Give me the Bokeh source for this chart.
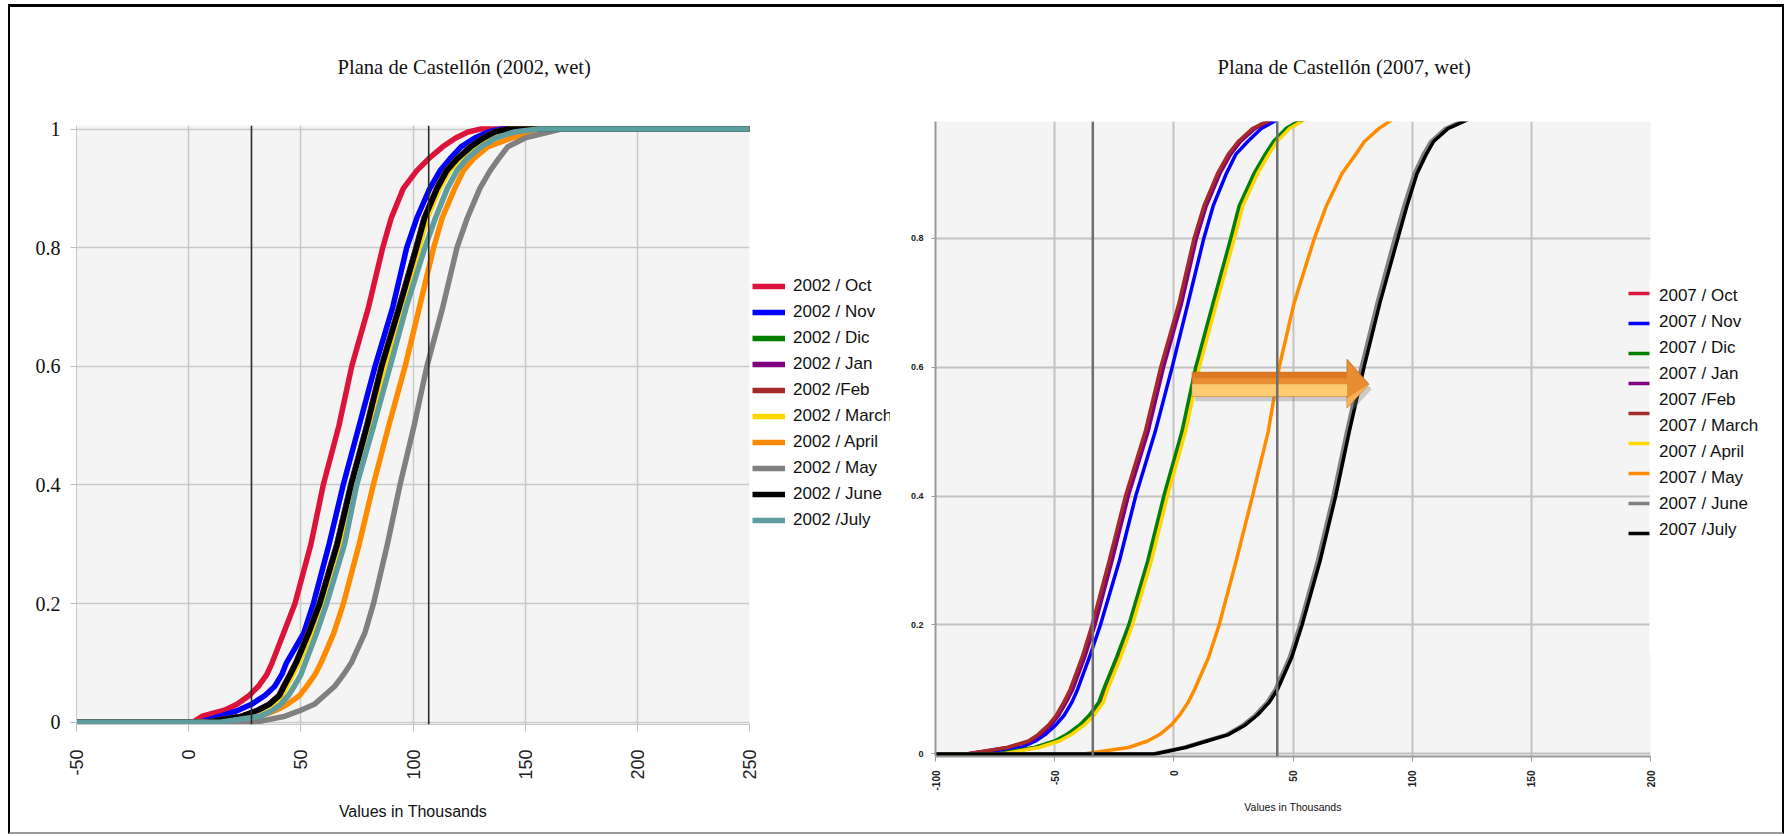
import math
from bokeh.plotting import figure
from bokeh.models import Legend, LegendItem, Span, FixedTicker, Range1d, Div
from bokeh.embed import file_html
from bokeh.resources import INLINE

# ------------------------------------------------------------------ texts
L_TITLE = "Plana de Castellón (2002, wet)"
R_TITLE = "Plana de Castellón (2007, wet)"
X_TITLE = "Values in Thousands"

# ------------------------------------------------------------------ left chart (2002) data
LX_TICKS = [-50, 0, 50, 100, 150, 200, 250]
LX_TICK_LABELS = ["-50", "0", "50", "100", "150", "200", "250"]
LY_TICKS = [0, 0.2, 0.4, 0.6, 0.8, 1]
LY_TICK_LABELS = ["0", "0.2", "0.4", "0.6", "0.8", "1"]
L_MARKERS = [28, 107]            # dark vertical reference lines
L_X_FIRST = -50                  # curves are flat at 0 from here
L_X_LAST = 250                   # and flat at 1 up to here

L_PROB = [0, 0.01, 0.02, 0.03, 0.045, 0.06, 0.08, 0.1, 0.15, 0.2, 0.3, 0.4, 0.5,
          0.6, 0.7, 0.8, 0.85, 0.9, 0.93, 0.95, 0.97, 0.985, 0.995, 1.0]
L_LABELS = ["2002 / Oct", "2002 / Nov", "2002 / Dic", "2002 / Jan", "2002 /Feb",
            "2002 / March", "2002 / April", "2002 / May", "2002 / June", "2002 /July"]
L_COLORS = ["#DC143C", "#0000FF", "#008000", "#800080", "#A52A2A",
            "#FFD700", "#FF8C00", "#808080", "#000000", "#5F9EA0"]
L_OCT = [2, 6, 16, 21.5, 27, 31, 34.8, 37.2, 42.3, 47.4, 54.5, 60, 67,
         72.7, 80.2, 86.5, 90.3, 95.7, 101.7, 107, 113.2, 119, 124.5, 130]
L_NOV = [5, 14, 22, 28, 34, 38.3, 41.5, 43.6, 51.3, 55.6, 62.6, 68.9, 76,
         83.1, 91, 97.2, 101.7, 107.5, 112.1, 116.5, 121.4, 127.5, 133.5, 139]
L_DIC = [8, 23.7, 30.7, 35.7, 40.2, 42.2, 45, 47.7, 53.2, 58.2, 66, 72.2, 79.3,
         85.8, 93.7, 101.3, 104.9, 110.5, 114.8, 119.5, 125.5, 131.2, 136.2, 141.7]
L_JAN = [8, 23.8, 30.8, 35.8, 40.3, 42.3, 45.1, 47.8, 53.3, 58.3, 66.1, 72.3, 79.4,
         85.9, 93.8, 101.4, 105.0, 110.6, 114.9, 119.6, 125.6, 131.3, 136.3, 141.8]
L_FEB = [8, 24, 31, 36, 40.5, 42.5, 45.3, 48, 53.5, 58.5, 66.3, 72.5, 79.6,
         86.1, 94, 101.6, 105.2, 110.8, 115.1, 119.8, 125.8, 131.5, 136.5, 142]
L_MAR = [9, 25, 32, 37.1, 41.6, 43.6, 46.4, 49.1, 54.6, 59.6, 67.4, 73.6, 80.7,
         87.2, 95.1, 102.7, 106.3, 111.9, 116.2, 120.9, 126.9, 132.6, 137.6, 143]
L_APR = [18, 32, 39, 44, 49.5, 52.5, 56.3, 59, 64.7, 69, 76, 82.3, 89.2,
         96.5, 102.9, 109.2, 113, 118.6, 122.5, 127, 133.3, 144, 154.5, 163]
L_MAY = [30, 43, 50, 56, 60.5, 65, 69, 72.5, 78.5, 82.4, 88.6, 94.2, 100.5,
         106.2, 113.3, 119.6, 124.2, 129.8, 134.4, 138.2, 142.2, 150, 160.5, 166]
L_JUN = [8, 24, 31, 36, 40.5, 42.5, 45.3, 48, 53.5, 58.5, 66.3, 72.5, 79.6,
         86.1, 94, 101.6, 105.2, 110.8, 115.1, 119.8, 125.8, 131.5, 136.5, 142]
L_JUL = [14, 32, 37.5, 41, 44.5, 47, 50, 52, 57, 61.5, 69.5, 74.9, 82.5,
         89.8, 97, 105.3, 110, 115.3, 119.6, 124, 130.3, 137, 145, 156]
L_SERIES = [L_OCT, L_NOV, L_DIC, L_JAN, L_FEB, L_MAR, L_APR, L_MAY, L_JUN, L_JUL]

# ------------------------------------------------------------------ right chart (2007) data
RX_TICKS = [-100, -50, 0, 50, 100, 150, 200]
RX_TICK_LABELS = ["-100", "-50", "0", "50", "100", "150", "200"]
RY_TICKS = [0, 0.2, 0.4, 0.6, 0.8]
RY_TICK_LABELS = ["0", "0.2", "0.4", "0.6", "0.8"]
R_MARKERS = [-34, 43.4]
R_X_FIRST = -100

R_PROB = [0, 0.01, 0.02, 0.03, 0.045, 0.06, 0.08, 0.1, 0.15, 0.2, 0.3, 0.4, 0.5,
          0.6, 0.7, 0.8, 0.85, 0.9, 0.93, 0.95, 0.97, 0.985, 1.0]
R_LABELS = ["2007 / Oct", "2007 / Nov", "2007 / Dic", "2007 / Jan", "2007 /Feb",
            "2007 / March", "2007 / April", "2007 / May", "2007 / June", "2007 /July"]
# the 2007 chart has nine curves (there is no swatch for "2007 /Feb")
R_COLORS = ["#DC143C", "#0000FF", "#008000", "#800080", "#A52A2A",
            "#FFD700", "#FF8C00", "#808080", "#000000"]
R_OCT = [-74, -58, -49.3, -44.3, -38.8, -34.8, -30.8, -28.8, -23.3, -18.2, -10.2, -3.5, 4.1,
         9.9, 17.2, 24.6, 28.1, 34.3, 39, 42.5, 47.7, 54.7, 62.5]
R_NOV = [-86, -64, -58, -54, -49.5, -46, -42.8, -40.4, -35.4, -30.8, -22.8, -16, -7.8,
         -0.7, 6, 12.6, 16.5, 22, 26, 31, 36.7, 44, 50]
R_DIC = [-74, -58.5, -50, -45, -39.5, -35.5, -31.5, -29.5, -24, -18.9, -10.9, -4.2, 3.4,
         9.2, 16.5, 23.9, 27.4, 33.6, 38.3, 41.8, 47, 54, 62]
R_JAN = [-87, -69.5, -60, -56, -51.5, -48.3, -45.2, -42.4, -37.4, -33.1, -25.9, -19.1, -10.8,
         -4.3, 3.3, 9.5, 13.6, 19.3, 23.8, 28, 34, 42, 48.5]
R_MAR = [-87, -70, -61, -57, -52.5, -49.3, -46.2, -43.5, -38.5, -34.3, -27.1, -20.3, -12,
         -5.5, 2.2, 8.5, 12.6, 18.3, 22.8, 27, 33, 41, 48]
R_APR = [-72, -56.5, -48, -43, -37.5, -33.5, -29.6, -27.8, -22.3, -17.4, -9.4, -2.7, 4.9,
         10.7, 18, 25.4, 28.9, 35.1, 39.8, 43.3, 48.5, 55.5, 63]
R_MAY = [-38, -19, -11, -6, -1, 2.4, 6, 8.7, 14.6, 19, 26.2, 33, 39.6,
         44.2, 50.5, 59, 64, 70.5, 76.3, 80, 86, 92, 97]
R_JUN = [-9, 4, 13, 22, 29, 34, 39, 42.5, 48.5, 52.8, 60.3, 66.8, 72.5,
         78.6, 85.3, 92.6, 96.5, 100.8, 104.6, 107.8, 113.8, 122.8, 132]
R_JUL = [-8, 5, 14, 23, 30, 35, 40, 43.5, 49.5, 53.8, 61.4, 67.9, 73.6,
         79.8, 86.5, 94, 97.8, 102, 105.9, 109, 115, 124, 133]
R_SERIES = [R_OCT, R_NOV, R_DIC, R_JAN, R_MAR, R_APR, R_MAY, R_JUN, R_JUL]

# block arrow drawn on the 2007 chart (data units)
ARROW_X = [7.7, 72.7, 81.8]               # tail, head base, tip
ARROW_Y = [0.555, 0.592, 0.537, 0.612]    # shaft bottom, shaft top, head bottom, head top

SERIF = "Liberation Serif"
SANS = "Liberation Sans"
PLOT_BG = "#F4F4F4"


def style_common(p, grid_color, grid_width):
    p.background_fill_color = PLOT_BG
    p.border_fill_color = "white"
    p.outline_line_color = None
    p.xgrid.grid_line_color = grid_color
    p.ygrid.grid_line_color = grid_color
    p.xgrid.grid_line_width = grid_width
    p.ygrid.grid_line_width = grid_width
    for ax in (p.xaxis[0], p.yaxis[0]):
        ax.minor_tick_line_color = None
        ax.major_tick_in = 0


def legend_panel(left, top, width, height):
    """small axis-less figure that only carries a legend (placed absolutely);
    its view range lies away from the data so only the legend shows"""
    q = figure(width=width, height=height, output_backend="svg", toolbar_location=None,
               x_range=Range1d(-1000, -999), y_range=Range1d(0, 1),
               min_border_left=0, min_border_right=0, min_border_top=0, min_border_bottom=0)
    q.axis.visible = False
    q.grid.visible = False
    q.outline_line_color = None
    q.background_fill_color = "white"
    q.border_fill_color = "white"
    q.styles = {"position": "absolute", "left": f"{left}px", "top": f"{top}px"}
    return q


# ================================================================== LEFT
p1 = figure(width=880, height=825, output_backend="svg", toolbar_location=None,
            x_range=Range1d(-50, 250), y_range=Range1d(-0.004, 1.006),
            min_border_left=66, min_border_right=141, min_border_top=118, min_border_bottom=108)
p1.styles = {"position": "absolute", "left": "10px", "top": "7px"}
style_common(p1, "#C9C9C9", 1.5)
p1.title.text = L_TITLE
p1.title.align = "left"
p1.title.offset = 261
p1.title.vertical_align = "middle"
p1.title.standoff = 93
p1.title.text_font = SERIF
p1.title.text_font_size = "20.6px"
p1.title.text_font_style = "normal"
p1.title.text_color = "#111111"

p1.xaxis.ticker = FixedTicker(ticks=LX_TICKS)
p1.xaxis.major_label_overrides = dict(zip(LX_TICKS, LX_TICK_LABELS))
p1.xaxis.major_label_orientation = math.pi / 2
p1.xaxis.major_label_text_font = SANS
p1.xaxis.major_label_text_font_size = "18px"
p1.xaxis.major_label_text_color = "#222222"
p1.xaxis.major_label_standoff = 18
p1.xaxis.major_tick_out = 7
p1.xaxis.major_tick_line_color = "#BDBDBD"
p1.xaxis.axis_line_color = "#C9C9C9"
p1.xaxis.axis_label = X_TITLE
p1.xaxis.axis_label_text_font = SANS
p1.xaxis.axis_label_text_font_size = "16px"
p1.xaxis.axis_label_text_font_style = "normal"
p1.xaxis.axis_label_text_color = "#111111"
p1.xaxis.axis_label_standoff = 20

p1.yaxis.ticker = FixedTicker(ticks=LY_TICKS)
p1.yaxis.major_label_overrides = dict(zip(LY_TICKS, LY_TICK_LABELS))
p1.yaxis.major_label_text_font = SERIF
p1.yaxis.major_label_text_font_size = "20px"
p1.yaxis.major_label_text_color = "#111111"
p1.yaxis.major_label_standoff = 10
p1.yaxis.major_tick_out = 6
p1.yaxis.major_tick_line_color = "#BDBDBD"
p1.yaxis.axis_line_color = "#C9C9C9"

for loc in L_MARKERS:
    p1.add_layout(Span(location=loc, dimension="height", line_color="#2A2A2A", line_width=1.6))

for xs, col in zip(L_SERIES, L_COLORS):
    p1.line([L_X_FIRST] + xs + [L_X_LAST], [0] + L_PROB + [1],
            line_color=col, line_width=5.5, line_join="round")

# legend of the 2002 chart (right of its plot area, cut by the 2007 panel)
q1 = legend_panel(750, 270, 140, 270)
q1_items = []
for lab, xs, col in zip(L_LABELS, L_SERIES, L_COLORS):
    rr = q1.line([L_X_FIRST] + xs + [L_X_LAST], [0] + L_PROB + [1], line_color=col, line_width=5.5)
    q1_items.append(LegendItem(label=lab, renderers=[rr]))
q1.add_layout(Legend(items=q1_items, location=(2, 8), orientation="vertical",
                     label_text_font=SANS, label_text_font_size="17px", label_text_color="#111111",
                     label_height=24, glyph_height=20, glyph_width=33, label_standoff=8,
                     spacing=2, padding=0, margin=0, border_line_color=None,
                     background_fill_alpha=0))

# ================================================================== RIGHT
p2 = figure(width=892, height=825, output_backend="svg", toolbar_location=None,
            x_range=Range1d(-100, 200), y_range=Range1d(-0.004, 0.981),
            min_border_left=45, min_border_right=132, min_border_top=114, min_border_bottom=76)
p2.styles = {"position": "absolute", "left": "890px", "top": "7px"}
style_common(p2, "#C2C2C2", 2)
p2.title.text = R_TITLE
p2.title.align = "left"
p2.title.offset = 282
p2.title.vertical_align = "middle"
p2.title.standoff = 86
p2.title.text_font = SERIF
p2.title.text_font_size = "20.6px"
p2.title.text_font_style = "normal"
p2.title.text_color = "#111111"

p2.xaxis.ticker = FixedTicker(ticks=RX_TICKS)
p2.xaxis.major_label_overrides = dict(zip(RX_TICKS, RX_TICK_LABELS))
p2.xaxis.major_label_orientation = math.pi / 2
p2.xaxis.major_label_text_font = SANS
p2.xaxis.major_label_text_font_size = "10px"
p2.xaxis.major_label_text_font_style = "bold"
p2.xaxis.major_label_text_color = "#222222"
p2.xaxis.major_label_standoff = 9
p2.xaxis.major_tick_out = 5
p2.xaxis.major_tick_line_color = "#9A9A9A"
p2.xaxis.axis_line_color = "#9A9A9A"
p2.xaxis.axis_line_width = 2
p2.xaxis.axis_label = X_TITLE
p2.xaxis.axis_label_text_font = SANS
p2.xaxis.axis_label_text_font_size = "10.5px"
p2.xaxis.axis_label_text_font_style = "normal"
p2.xaxis.axis_label_text_color = "#111111"
p2.xaxis.axis_label_standoff = 7

p2.yaxis.ticker = FixedTicker(ticks=RY_TICKS)
p2.yaxis.major_label_overrides = dict(zip(RY_TICKS, RY_TICK_LABELS))
p2.yaxis.major_label_text_font = SANS
p2.yaxis.major_label_text_font_size = "9px"
p2.yaxis.major_label_text_font_style = "bold"
p2.yaxis.major_label_text_color = "#222222"
p2.yaxis.major_label_standoff = 8
p2.yaxis.major_tick_out = 4
p2.yaxis.major_tick_line_color = "#9A9A9A"
p2.yaxis.axis_line_color = "#9A9A9A"
p2.yaxis.axis_line_width = 2

for loc in R_MARKERS:
    p2.add_layout(Span(location=loc, dimension="height", line_color="#6E6E6E", line_width=2.5))

r_renderers = []
for xs, col in zip(R_SERIES, R_COLORS):
    r = p2.line([R_X_FIRST] + xs, [0] + R_PROB, line_color=col, line_width=3.5, line_join="round")
    r_renderers.append(r)

# block arrow (shadow, body, shading bands)
ax0, ax1, axt = ARROW_X
sb, st, hb, ht = ARROW_Y
tipy = (sb + st) / 2
body_x = [ax0, ax1, ax1, axt, ax1, ax1, ax0]
body_y = [sb, sb, hb, tipy, ht, st, st]
p2.patch([v + 1.2 for v in body_x], [v - 0.008 for v in body_y], fill_color="#7A7A7A", fill_alpha=0.35, line_color=None)
p2.patch(body_x, body_y, fill_color="#E98E30", line_color="#C9701E", line_width=1)
band = sb + 0.5 * (st - sb)
p2.patch([ax0, ax1, ax1, ax0], [sb, sb, band, band], fill_color="#FCCB72", line_color=None)
top_band = st - 0.25 * (st - sb)
p2.patch([ax0, ax1, ax1, ax0], [top_band, top_band, st, st], fill_color="#D9741F", line_color=None, fill_alpha=0.8)
p2.patch([ax1, axt, ax1], [hb, tipy, tipy - 0.6 * (tipy - hb)], fill_color="#F7B257", line_color=None)

# swatches (9) sit inside the plot area, spaced differently from the 10 labels
sw_items = [LegendItem(label=" ", renderers=[r]) for r in r_renderers]
p2.add_layout(Legend(items=sw_items, location=(693, 213), orientation="vertical",
                     label_text_font_size="2px", label_height=20, glyph_height=20, glyph_width=22,
                     label_standoff=0, spacing=10, padding=0, margin=0,
                     border_line_color=None, background_fill_alpha=0))

# labels of the 2007 legend in a white box that hides the plot's right edge
q2 = legend_panel(1649, 278, 133, 375)
q2_rend = q2.line([R_X_FIRST] + R_JUL, [0] + R_PROB, line_alpha=0)
q2_items = [LegendItem(label=lab, renderers=[q2_rend]) for lab in R_LABELS]
q2.add_layout(Legend(items=q2_items, location=(0, 111), orientation="vertical",
                     label_text_font=SANS, label_text_font_size="17px", label_text_color="#111111",
                     label_height=24, glyph_height=20, glyph_width=0, label_standoff=10,
                     spacing=2, padding=0, margin=0, border_line_color=None,
                     background_fill_alpha=0))

frame_div = Div(text="", width=1772, height=825, margin=0,
                styles={"position": "absolute", "left": "8px", "top": "4px",
                        "box-sizing": "content-box", "pointer-events": "none",
                        "border-top": "3px solid #000000", "border-left": "2px solid #000000",
                        "border-right": "2px solid #000000", "border-bottom": "2px solid #9A9A9A"})

open("out.html", "w").write(file_html([p1, q1, p2, q2, frame_div], INLINE))
